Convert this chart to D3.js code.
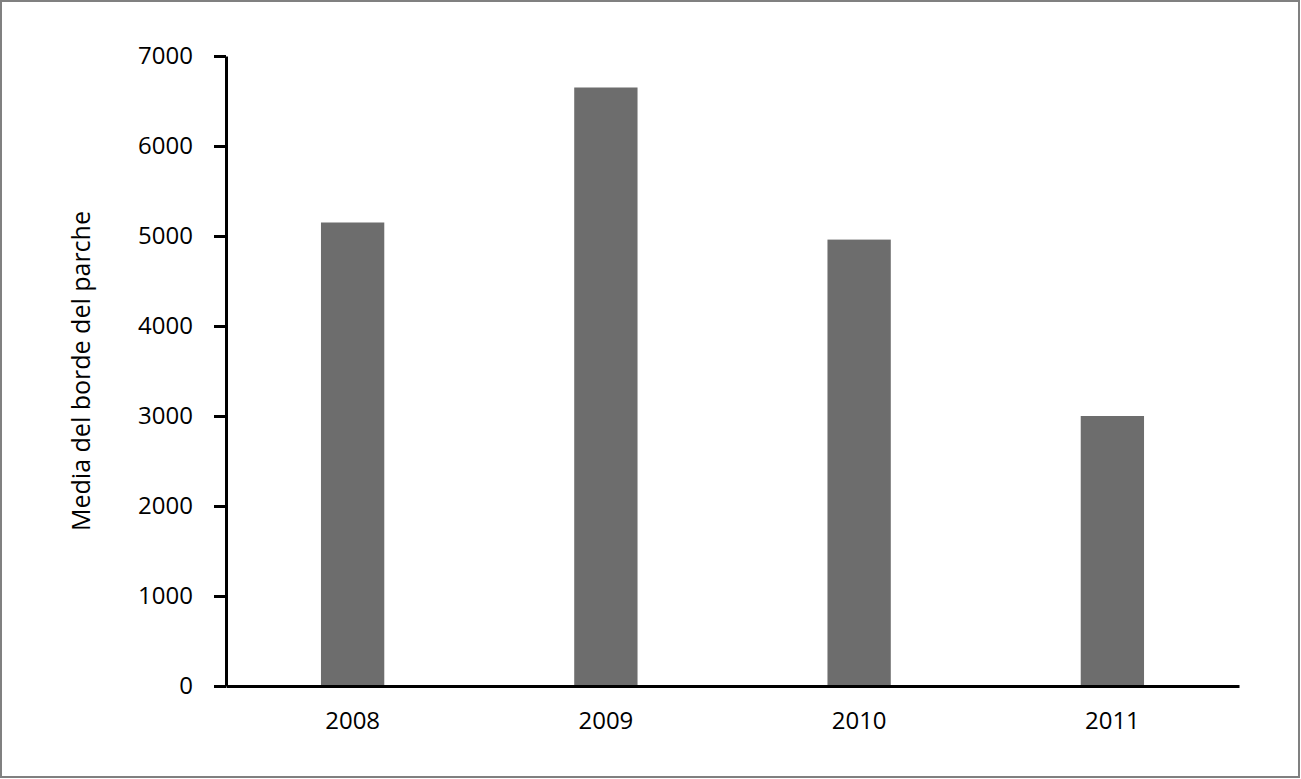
<!DOCTYPE html>
<html>
<head>
<meta charset="utf-8">
<script src="https://cdn.jsdelivr.net/npm/d3@7"></script>
<style>
body{margin:0;background:#fff;}
svg{display:block;}
</style>
</head>
<body>
<svg width="1301" height="779"></svg>
<script>
var lata = ["2008","2009","2010","2011"];
var wartosci = [5150, 6650, 4960, 3000];
var tickiY = [0,1000,2000,3000,4000,5000,6000,7000];
var tytulY = "Media del borde del parche";

var svg = d3.select("svg");
var czcionka = "'Open Sans', 'Noto Sans', sans-serif";

// ramka
svg.append("rect")
	.attr("x", 1).attr("y", 1)
	.attr("width", 1298).attr("height", 776)
	.style("fill", "none")
	.style("stroke", "#808080")
	.style("stroke-width", "2px");

var x = d3.scaleBand().domain(lata).range([226, 1239]).paddingInner(0.75).paddingOuter(0.375);
var y = d3.scaleLinear().domain([0, 7000]).range([686, 56]);

// slupki
svg.selectAll(".slupek")
	.data(wartosci)
	.enter()
	.append("rect")
	.attr("class", "slupek")
	.attr("x", function(d, i){ return x(lata[i]); })
	.attr("width", x.bandwidth())
	.attr("y", function(d){ return y(d); })
	.attr("height", function(d){ return y(0) - y(d); })
	.style("fill", "#6d6d6d");

// os Y
var osY = svg.append("g")
	.attr("transform", "translate(226,0)")
	.call(d3.axisLeft(y).tickValues(tickiY).tickFormat(d3.format("d")).tickSize(12).tickPadding(21).tickSizeOuter(0));
osY.attr("font-family", czcionka).attr("font-size", 24);
osY.select(".domain").style("stroke", "#000").style("stroke-width", "3px");
osY.selectAll(".tick line").style("stroke", "#000").style("stroke-width", "3px");
osY.selectAll("text").attr("fill", "#000");

// os X
var osX = svg.append("g")
	.attr("transform", "translate(0,686)")
	.call(d3.axisBottom(x).tickSize(0).tickPadding(26).tickSizeOuter(0));
osX.attr("font-family", czcionka).attr("font-size", 24);
osX.select(".domain").style("stroke", "#000").style("stroke-width", "3px");
osX.selectAll("text").attr("fill", "#000");

// tytul osi Y
svg.append("text")
	.attr("transform", "translate(90,371) rotate(-90)")
	.attr("text-anchor", "middle")
	.attr("font-family", czcionka)
	.attr("font-size", 25)
	.attr("fill", "#000")
	.text(tytulY);
</script>
</body>
</html>
